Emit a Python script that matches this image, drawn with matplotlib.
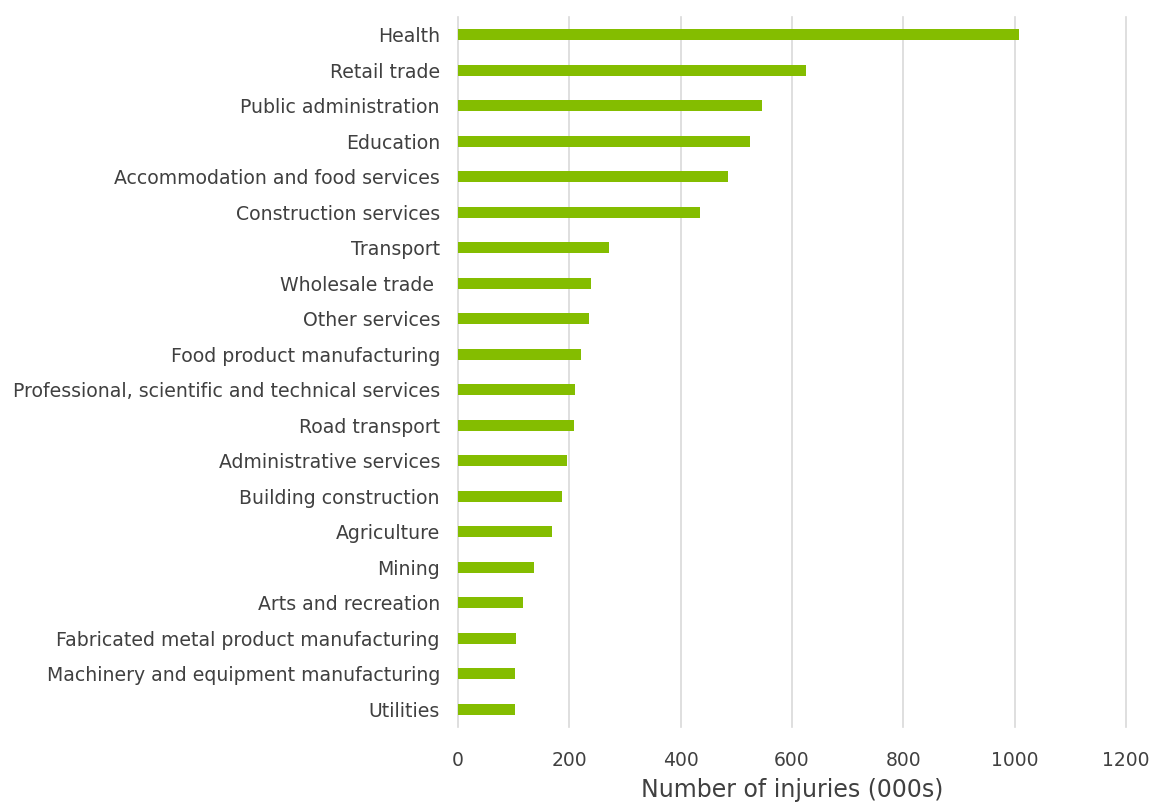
import matplotlib
matplotlib.use("Agg")
import matplotlib.pyplot as plt

categories = [
    "Health", "Retail trade", "Public administration", "Education",
    "Accommodation and food services", "Construction services", "Transport",
    "Wholesale trade ", "Other services", "Food product manufacturing",
    "Professional, scientific and technical services", "Road transport",
    "Administrative services", "Building construction", "Agriculture",
    "Mining", "Arts and recreation", "Fabricated metal product manufacturing",
    "Machinery and equipment manufacturing", "Utilities",
]
values = [1008, 625, 547, 524, 485, 435, 271, 239, 235, 221,
          210, 209, 196, 187, 169, 137, 117, 105, 103, 102]
xticks = [0, 200, 400, 600, 800, 1000, 1200]

text_color = "#404040"
bar_color = "#84BD00"
grid_color = "#d9d9d9"

fig = plt.figure(figsize=(11.54, 8.02), dpi=100)
ax = fig.add_axes([458 / 1154, 1 - 727 / 802, (1126 - 458) / 1154, (727 - 17) / 802])

ypos = list(range(len(categories)))
ax.barh(ypos, values, height=0.31, color=bar_color, zorder=3)
ax.set_ylim(len(categories) - 0.5, -0.5)
ax.set_xlim(0, 1200)
ax.set_yticks(ypos)
ax.set_yticklabels(categories, fontsize=13.6, color=text_color)
ax.set_xticks(xticks)
ax.set_xticklabels([str(t) for t in xticks], fontsize=13.5, color=text_color)
ax.tick_params(axis="y", length=0, pad=13)
ax.tick_params(axis="x", length=0, pad=17)
for s in ax.spines.values():
    s.set_visible(False)
ax.grid(axis="x", color=grid_color, linewidth=1.2, zorder=0)
for t in ax.get_xgridlines():
    t.set_clip_on(False)
ax.set_xlabel("Number of injuries (000s)", fontsize=17, color=text_color, labelpad=6)

fig.savefig("out.png", dpi=100)
